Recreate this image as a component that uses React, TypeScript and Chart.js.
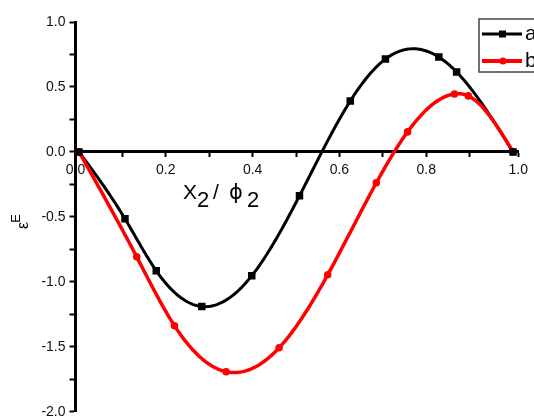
import React, { useEffect, useRef } from "react";
import { Chart, registerables } from "chart.js";

Chart.register(...registerables);

const seriesNames = ["a", "b"];
const xA = [0, 0.106, 0.178, 0.283, 0.398, 0.508, 0.625, 0.706, 0.829, 0.87, 1.0];
const yA = [0, -0.515, -0.915, -1.19, -0.954, -0.338, 0.392, 0.715, 0.73, 0.615, 0];
const xB = [0, 0.133, 0.22, 0.339, 0.461, 0.573, 0.685, 0.757, 0.865, 0.897, 1.0];
const yB = [0, -0.808, -1.338, -1.692, -1.508, -0.946, -0.238, 0.154, 0.446, 0.431, 0];
const xTickLabels = ["0.0", "0.2", "0.4", "0.6", "0.8", "1.0"];
const yTickLabels = ["-2.0", "-1.5", "-1.0", "-0.5", "0.0", "0.5", "1.0"];

const FONT = "'Liberation Sans', Arial, sans-serif";

// natural cubic spline second derivatives
function splineM(xs: number[], ys: number[]) {
  const n = xs.length;
  const m = new Array(n).fill(0);
  if (n < 3) return m;
  const a: number[] = [], b: number[] = [], c: number[] = [], d: number[] = [];
  for (let i = 1; i < n - 1; i++) {
    const h0 = xs[i] - xs[i - 1];
    const h1 = xs[i + 1] - xs[i];
    a.push(h0);
    b.push(2 * (h0 + h1));
    c.push(h1);
    d.push(6 * ((ys[i + 1] - ys[i]) / h1 - (ys[i] - ys[i - 1]) / h0));
  }
  const k = b.length;
  for (let i = 1; i < k; i++) {
    const w = a[i] / b[i - 1];
    b[i] -= w * c[i - 1];
    d[i] -= w * d[i - 1];
  }
  const sol = new Array(k).fill(0);
  sol[k - 1] = d[k - 1] / b[k - 1];
  for (let i = k - 2; i >= 0; i--) sol[i] = (d[i] - c[i] * sol[i + 1]) / b[i];
  for (let i = 0; i < k; i++) m[i + 1] = sol[i];
  return m;
}

const splinePlugin = {
  id: "splineLines",
  beforeDatasetsDraw(chart: any) {
    const ctx = chart.ctx;
    const xs = chart.scales.x;
    const ys = chart.scales.y;
    const area = chart.chartArea;
    ctx.save();
    ctx.beginPath();
    ctx.rect(area.left, area.top, area.right - area.left, area.bottom - area.top);
    ctx.clip();
    chart.data.datasets.forEach((ds: any) => {
      const px = ds.data.map((p: any) => p.x);
      const py = ds.data.map((p: any) => p.y);
      const m = splineM(px, py);
      ctx.strokeStyle = ds.borderColor;
      ctx.lineWidth = ds.splineWidth;
      ctx.lineJoin = "round";
      ctx.lineCap = "round";
      ctx.beginPath();
      for (let i = 0; i < px.length - 1; i++) {
        const h = px[i + 1] - px[i];
        const steps = 30;
        for (let s = 0; s <= steps; s++) {
          const t = s / steps;
          const x = px[i] + t * h;
          const A = 1 - t, B = t;
          const y =
            A * py[i] + B * py[i + 1] +
            ((A * A * A - A) * m[i] + (B * B * B - B) * m[i + 1]) * (h * h) / 6;
          const X = xs.getPixelForValue(x);
          const Y = ys.getPixelForValue(y);
          if (i === 0 && s === 0) ctx.moveTo(X, Y);
          else ctx.lineTo(X, Y);
        }
      }
      ctx.stroke();
    });
    ctx.restore();
  },
};

const decorPlugin = {
  id: "decor",
  afterDraw(chart: any) {
    const ctx = chart.ctx;
    ctx.save();
    // x axis title: X2 / ϕ2
    ctx.fillStyle = "#000";
    ctx.textAlign = "left";
    ctx.textBaseline = "alphabetic";
    ctx.font = `21px ${FONT}`;
    ctx.fillText("X", 183, 199);
    ctx.font = `22px ${FONT}`;
    ctx.fillText("2", 197, 207);
    ctx.font = `21px ${FONT}`;
    ctx.fillText("/", 213, 199);
    ctx.font = `21px 'DejaVu Sans', ${FONT}`;
    ctx.fillText("\u03D5", 229, 199);
    ctx.font = `22px ${FONT}`;
    ctx.fillText("2", 247, 207);

    // y axis title: ε^E rotated
    ctx.save();
    ctx.translate(28, 229);
    ctx.rotate(-Math.PI / 2);
    ctx.font = `16px ${FONT}`;
    ctx.fillText("\u03B5", 0, 0);
    const w = ctx.measureText("\u03B5").width;
    ctx.font = `13px ${FONT}`;
    ctx.fillText("E", w - 1, -8);
    ctx.restore();

    // legend
    const lx = 479, ly = 19, lw = 70, lh = 53;
    ctx.fillStyle = "#fff";
    ctx.fillRect(lx, ly, lw, lh);
    ctx.strokeStyle = "#444";
    ctx.lineWidth = 1.5;
    ctx.strokeRect(lx, ly, lw, lh);
    const rows = [
      { y: 34, color: "#000", lw: 3, shape: "rect" },
      { y: 61, color: "#ff0000", lw: 4, shape: "circle" },
    ];
    rows.forEach((r, i) => {
      ctx.strokeStyle = r.color;
      ctx.lineWidth = r.lw;
      ctx.beginPath();
      ctx.moveTo(482, r.y);
      ctx.lineTo(522, r.y);
      ctx.stroke();
      ctx.fillStyle = r.color;
      if (r.shape === "rect") {
        ctx.fillRect(499, r.y - 3.5, 7, 7);
      } else {
        ctx.beginPath();
        ctx.arc(503, r.y, 3.5, 0, Math.PI * 2);
        ctx.fill();
      }
      ctx.fillStyle = "#000";
      ctx.font = `21px ${FONT}`;
      ctx.textBaseline = "middle";
      ctx.fillText(seriesNames[i], 525, r.y);
    });
    ctx.restore();
  },
};

export default function App() {
  const ref = useRef<HTMLCanvasElement>(null);
  useEffect(() => {
    if (!ref.current) return;
    const chart = new Chart(ref.current, {
      type: "line",
      data: {
        datasets: [
          {
            label: seriesNames[0],
            data: xA.map((x, i) => ({ x, y: yA[i] })),
            borderColor: "#000",
            backgroundColor: "#000",
            showLine: false,
            splineWidth: 3,
            pointStyle: "rect",
            pointRadius: 5.3,
            pointBorderWidth: 0,
          } as any,
          {
            label: seriesNames[1],
            data: xB.map((x, i) => ({ x, y: yB[i] })),
            borderColor: "#ff0000",
            backgroundColor: "#ff0000",
            showLine: false,
            splineWidth: 3.5,
            pointStyle: "circle",
            pointRadius: 3.8,
            pointBorderWidth: 0,
          } as any,
        ],
      },
      options: {
        animation: false,
        responsive: true,
        maintainAspectRatio: false,
        layout: { padding: { top: 22, right: 4, bottom: 5, left: 0 } },
        plugins: { legend: { display: false }, tooltip: { enabled: false } },
        scales: {
          x: {
            type: "linear",
            position: { y: 0 } as any,
            min: -0.008,
            max: 1.012,
            border: { display: true, color: "#000", width: 3 },
            grid: {
              display: true,
              drawOnChartArea: false,
              drawTicks: true,
              tickLength: 4,
              tickColor: "#000",
              tickWidth: 2,
            },
            ticks: {
              stepSize: 0.1,
              padding: 6,
              color: "#111",
              font: { family: FONT, size: 14 },
              maxRotation: 0,
              autoSkip: false,
              callback: (v: any) => {
                const idx = Math.round(Number(v) * 10);
                if (idx < 0 || idx > 10 || idx % 2 !== 0) return "";
                return xTickLabels[idx / 2];
              },
            },
          },
          y: {
            type: "linear",
            min: -2,
            max: 1,
            border: { display: true, color: "#000", width: 3 },
            grid: {
              display: true,
              drawOnChartArea: false,
              drawTicks: true,
              tickLength: 6,
              tickColor: "#000",
              tickWidth: 2,
            },
            ticks: {
              stepSize: 0.25,
              padding: 4,
              color: "#111",
              font: { family: FONT, size: 14 },
              autoSkip: false,
              callback: (v: any) => {
                const idx = Math.round((Number(v) + 2) * 4);
                if (idx % 2 !== 0) return "";
                return yTickLabels[idx / 2];
              },
            },
            afterFit: (scale: any) => {
              scale.width = 75.5;
              scale.paddingTop = 0;
              scale.paddingBottom = 0;
            },
          },
        },
      },
      plugins: [splinePlugin, decorPlugin],
    });
    return () => chart.destroy();
  }, []);
  return (
    <div style={{ position: "absolute", left: 0, top: 0, width: 534, height: 417, background: "#fff" }}>
      <canvas ref={ref} />
    </div>
  );
}
